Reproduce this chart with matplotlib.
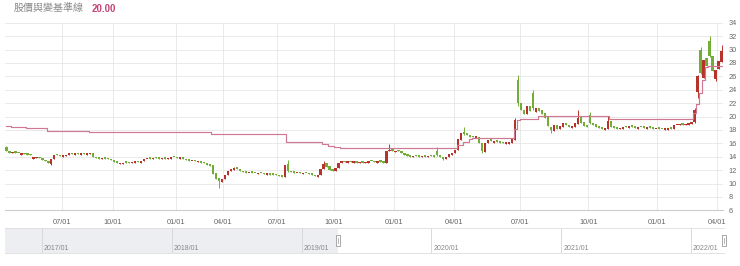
import matplotlib
matplotlib.use("Agg")
import matplotlib.pyplot as plt
from matplotlib.patches import Rectangle
import numpy as np

# --- data ---
quarter_labels = ["07/01", "10/01", "01/01", "04/01", "07/01", "10/01",
                  "01/01", "04/01", "07/01", "10/01", "01/01", "04/01"]
# number of candles falling in each quarter (first one is a partial quarter)
bars_per_quarter = [19, 17, 21, 16, 18, 19, 20, 20, 22, 23, 23, 20, 2]

closes = [
    14.9, 14.6, 14.7, 14.6, 14.5, 14.5, 14.4, 14.3, 14.2, 13.9,
    14.0, 13.8, 13.5, 13.3, 13.0, 13.6, 14.3, 14.2, 14.1, 14.2,
    14.3, 14.5, 14.4, 14.5, 14.4, 14.5, 14.4, 14.5, 14.6, 14.0,
    13.8, 13.7, 13.8, 13.7, 13.6, 13.5, 13.2, 13.0, 13.0, 13.1,
    13.1, 13.0, 13.2, 13.3, 13.2, 13.3, 13.6, 13.7, 13.7, 13.8,
    13.8, 13.7, 13.8, 13.7, 13.8, 13.9, 13.9, 13.8, 13.8, 13.6,
    13.5, 13.4, 13.4, 13.3, 13.3, 13.1, 13.0, 12.8, 12.6, 11.4,
    10.6, 10.4, 10.7, 11.3, 11.9, 12.1, 12.3, 12.1, 11.8, 11.7,
    11.6, 11.6, 11.6, 11.5, 11.5, 11.5, 11.4, 11.4, 11.3, 11.3,
    11.2, 11.1, 11.0, 12.8, 11.8, 11.7, 11.6, 11.6, 11.5, 11.5,
    11.5, 11.4, 11.3, 11.1, 11.2, 12.2, 12.9, 12.5, 12.0, 11.8,
    12.3, 13.1, 13.3, 13.2, 13.3, 13.2, 13.2, 13.1, 13.2, 13.1,
    13.2, 13.3, 13.3, 13.2, 13.4, 13.2, 13.0, 14.9, 15.0, 14.9,
    14.8, 14.8, 14.6, 14.3, 14.1, 13.9, 14.1, 14.1, 14.0, 14.1,
    14.0, 14.1, 14.1, 14.0, 14.2, 14.0, 13.7, 14.0, 14.4, 14.6,
    15.0, 16.6, 17.6, 17.4, 17.2, 17.0, 16.9, 17.1, 16.0, 14.8,
    16.0, 16.5, 16.3, 16.3, 16.2, 16.1, 16.0, 16.0, 16.1, 16.6,
    19.5, 22.0, 21.0, 20.4, 21.6, 20.8, 21.2, 21.2, 20.8, 20.4,
    19.8, 18.6, 18.0, 18.8, 18.2, 18.6, 19.0, 18.7, 18.5, 18.6,
    19.0, 19.8, 19.1, 18.6, 18.4, 19.0, 18.8, 18.4, 18.3, 18.1,
    18.2, 19.4, 18.4, 18.3, 18.2, 18.3, 18.4, 18.4, 18.5, 18.5,
    18.3, 18.4, 18.4, 18.3, 18.3, 18.3, 18.2, 18.2, 18.2, 18.1,
    18.1, 18.2, 18.2, 18.8, 18.8, 18.9, 18.8, 18.9, 19.0, 19.2,
    21.0, 26.0, 26.5, 28.5, 27.6, 29.0, 26.8, 27.0, 28.3, 29.8,
]

opens = [
    15.4, 14.9, 14.5, 14.8, 14.6, 14.3, 14.5, 14.4, 14.4, 13.7,
    13.8, 14.0, 13.8, 13.5, 13.3, 12.9, 13.6, 14.4, 14.2, 14.0,
    14.1, 14.3, 14.6, 14.3, 14.6, 14.3, 14.6, 14.3, 14.4, 14.5,
    14.0, 13.8, 13.6, 13.9, 13.8, 13.7, 13.5, 13.3, 12.9, 12.9,
    13.2, 13.2, 13.0, 13.1, 13.4, 13.1, 13.3, 13.6, 13.8, 13.6,
    13.9, 13.9, 13.6, 13.9, 13.6, 13.7, 14.0, 14.0, 13.7, 13.9,
    13.7, 13.6, 13.3, 13.5, 13.2, 13.3, 13.2, 13.0, 12.9, 12.7,
    11.6, 10.8, 10.2, 10.6, 11.2, 11.8, 12.0, 12.4, 12.1, 11.9,
    11.8, 11.5, 11.7, 11.6, 11.4, 11.6, 11.5, 11.3, 11.5, 11.4,
    11.4, 11.3, 11.2, 11.0, 12.9, 11.9, 11.8, 11.5, 11.7, 11.4,
    11.6, 11.5, 11.5, 11.3, 11.0, 11.2, 12.2, 13.0, 12.6, 12.1,
    11.8, 12.3, 13.1, 13.4, 13.1, 13.4, 13.1, 13.3, 13.0, 13.3,
    13.0, 13.1, 13.4, 13.4, 13.1, 13.5, 13.3, 13.1, 14.8, 15.1,
    14.7, 15.0, 14.9, 14.6, 14.4, 14.2, 13.9, 14.2, 14.1, 13.9,
    14.2, 13.9, 14.2, 14.2, 14.9, 14.3, 14.0, 13.7, 14.0, 14.3,
    14.6, 15.0, 16.5, 17.7, 17.5, 17.3, 17.1, 16.8, 17.0, 16.0,
    14.7, 16.0, 16.6, 16.1, 16.4, 16.3, 16.2, 15.9, 15.9, 16.1,
    16.5, 25.5, 22.0, 20.9, 20.3, 21.5, 23.5, 20.6, 21.3, 20.9,
    20.5, 19.9, 18.5, 17.9, 18.8, 18.1, 18.5, 19.1, 18.8, 18.3,
    18.5, 18.9, 19.9, 19.2, 18.7, 20.2, 19.1, 18.9, 18.5, 18.4,
    18.0, 18.2, 19.4, 18.5, 18.4, 18.1, 18.2, 18.6, 18.3, 18.6,
    18.5, 18.2, 18.5, 18.4, 18.2, 18.4, 18.4, 18.1, 18.3, 18.2,
    18.0, 18.0, 18.3, 18.2, 18.7, 18.7, 19.0, 18.7, 18.8, 18.9,
    19.2, 23.6, 29.9, 25.8, 28.8, 31.3, 29.0, 25.6, 27.1, 28.2,
]

# candles with visible wicks (index, high, low)
wick_idx = [0, 15, 71, 76, 94, 106, 128, 144, 146, 153, 159, 170,
            171, 176, 182, 191, 195, 201, 230, 231, 232, 235, 237, 239]
wick_high = [15.6, 13.6, 10.8, 12.5, 13.5, 13.3, 15.9, 15.4, 14.0, 18.4, 16.0, 19.8,
             26.2, 24.0, 18.5, 21.0, 20.7, 20.1, 21.3, 26.2, 30.4, 32.0, 27.0, 30.7]
wick_low = [14.8, 12.8, 9.3, 12.0, 11.7, 12.2, 14.8, 14.1, 13.5, 17.3, 14.5, 16.5,
            21.5, 21.0, 17.6, 18.9, 18.9, 18.2, 19.1, 22.8, 26.3, 28.9, 25.3, 28.2]

# baseline (pink step line): level and how many candles it lasts
base_levels = [18.58, 18.5, 18.4, 18.3, 18.24, 17.9, 17.64, 17.4, 16.15, 15.9, 15.65,
               15.45, 15.35, 15.7, 16.2, 16.6, 16.8, 18.2, 19.5, 19.7, 20.1, 19.7,
               20.5, 21.8, 23.5, 25.4, 27.4, 27.5]
base_counts = [2, 3, 2, 2, 5, 14, 41, 25, 12, 2, 2,
               2, 39, 2, 2, 1, 14, 1, 1, 6, 24, 28,
               1, 1, 1, 1, 1, 5]

header_label = "股價與變基準線"
header_value = "20.00"

nav_years = [2017, 2018, 2019, 2020, 2021, 2022]
nav_span = (2016.715, 2022.254)
nav_selected = (2019.28, 2022.254)

RED = "#b8322c"
GREEN = "#72ad38"
PINK = "#cf7892"

# --- figure ---
fig = plt.figure(figsize=(7.4, 2.66), dpi=100)
ax = fig.add_axes([5 / 740, 1 - 210.3 / 266, 718 / 740, 187.6 / 266])

n = len(closes)
x = np.arange(n)
o = np.array(opens)
c = np.array(closes)
body_lo = np.minimum(o, c)
body_hi = np.maximum(o, c)
hi = body_hi.copy()
lo = body_lo.copy()
for k, i in enumerate(wick_idx):
    hi[i] = max(hi[i], wick_high[k])
    lo[i] = min(lo[i], wick_low[k])
colors = np.where(c >= o, RED, GREEN)

ax.vlines(x, lo, hi, colors=colors, lw=0.7, zorder=3)
ax.bar(x, np.maximum(body_hi - body_lo, 0.22), bottom=body_lo, width=0.75,
       color=colors, lw=0, zorder=3)

base = np.repeat(base_levels, base_counts)
ax.step(x, base, where="mid", color=PINK, lw=0.85, zorder=4)

ax.set_xlim(-0.5, n - 0.5)
ax.set_ylim(6, 34)
ax.yaxis.tick_right()
ax.set_yticks(range(6, 35, 2))
ax.set_xticks(np.cumsum(bars_per_quarter)[:-1] - 0.5)
ax.set_xticklabels(quarter_labels)
ax.tick_params(axis="y", length=0, pad=4, labelsize=5.3, labelcolor="#666666")
ax.tick_params(axis="x", length=0, pad=6, labelsize=5.3, labelcolor="#666666")
for lab in ax.get_xticklabels() + ax.get_yticklabels():
    lab.set_family("Liberation Sans")
ax.grid(True, color="#e6e6e6", lw=0.6, zorder=0)
for s in ["top", "left", "right"]:
    ax.spines[s].set_visible(False)
ax.spines["bottom"].set_color("#cccccc")
ax.spines["bottom"].set_linewidth(0.8)

fig.text(14 / 740, 1 - 9 / 266, header_label, va="center", ha="left", fontsize=7.2,
         color="#888888", family=["Noto Sans CJK TC", "DejaVu Sans"])
fig.text(92 / 740, 1 - 9 / 266, header_value, va="center", ha="left", fontsize=7,
         color="#c2447a", family="Liberation Sans", fontweight="bold")

# --- navigator ---
nav = fig.add_axes([5 / 740, 13 / 266, 719 / 740, 25 / 266])
nav.set_xlim(*nav_span)
nav.set_ylim(0, 1)
nav.axvspan(nav_span[0], nav_selected[0], color="#eceef2", lw=0)
for yr in nav_years:
    nav.axvline(yr, color="#d4d4d4", lw=0.6)
    nav.text(yr + 0.015, 0.2, f"{yr}/01", fontsize=5, color="#888888",
             family="Liberation Sans", va="center", ha="left")
nav.set_xticks([])
nav.set_yticks([])
for s in ["left", "right"]:
    nav.spines[s].set_visible(False)
for s in ["top", "bottom"]:
    nav.spines[s].set_color("#dddddd")
    nav.spines[s].set_linewidth(0.6)
for xs in nav_selected:
    nav.add_patch(Rectangle((xs - 0.017, 0.3), 0.034, 0.42, facecolor="white",
                            edgecolor="#999999", lw=0.6, clip_on=False, zorder=5))
    nav.plot([xs, xs], [0.4, 0.62], color="#999999", lw=0.5, clip_on=False, zorder=6)

fig.savefig("out.png", dpi=100)
